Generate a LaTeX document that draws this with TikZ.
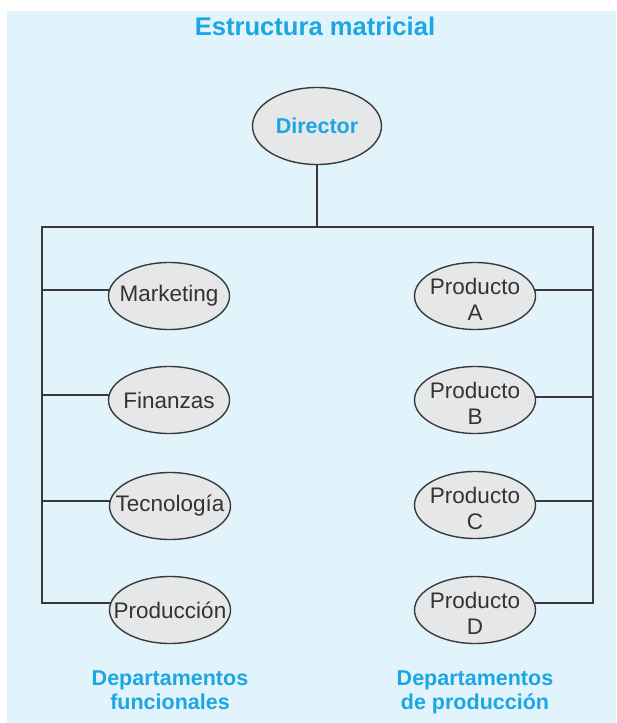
\documentclass[tikz,border=0pt]{standalone}
\usepackage{fontspec}
\setmainfont{Liberation Sans}
\usetikzlibrary{shapes.geometric}
\definecolor{bgblue}{HTML}{E1F3FB}
\definecolor{cyantext}{HTML}{1CA6E4}
\definecolor{elfill}{HTML}{E6E7E9}
\definecolor{elline}{HTML}{3A3A3A}
\definecolor{labtext}{HTML}{333333}
\tikzset{
  eli/.style={ellipse, draw=elline, line width=1.4pt, fill=elfill,
    minimum width=121pt, minimum height=67pt, inner sep=0pt},
  lab/.style={font=\fontsize{22.5}{26}\selectfont, text=labtext, align=center, inner sep=0pt},
  lab2/.style={lab, yshift=-3pt},
  conn/.style={draw=elline, line width=1.7pt},
  cyanlab/.style={font=\fontsize{21.5}{24}\selectfont\bfseries, text=cyantext, align=center, inner sep=0pt},
}
\begin{document}
\begin{tikzpicture}[x=1pt,y=-1pt]
\useasboundingbox (0,0) rectangle (616,723);
\fill[bgblue] (7,11) rectangle (616,723);
\node[font=\fontsize{25.6}{28}\selectfont\bfseries, text=cyantext, anchor=base, inner sep=0pt] (title) at (315,35) {Estructura matricial};
\node[eli, minimum width=129pt, minimum height=77pt,
  label={[cyanlab]center:Director}] (dir) at (317,126) {};
% functional departments
\node[eli, label={[lab]center:Marketing}] (mk) at (169,296) {};
\node[eli, label={[lab]center:Finanzas}] (fi) at (169,400) {};
\node[eli, label={[lab]center:Tecnología}] (te) at (170,506) {};
\node[eli, label={[lab]center:Producción}] (pr) at (170,610) {};
% product departments
\node[eli, label={[lab2]center:Producto\\A}] (pa) at (475,296) {};
\node[eli, label={[lab2]center:Producto\\B}] (pb) at (475,400) {};
\node[eli, label={[lab2]center:Producto\\C}] (pc) at (475,505) {};
\node[eli, label={[lab2]center:Producto\\D}] (pd) at (475,610) {};
\coordinate (tl) at (42,227);
\coordinate (tr) at (593,227);
% frame
\draw[conn, line join=miter] (pr.173) -- (pr.173 -| tl) |- (tr) -- (pd.7 -| tr) -- (pd.7);
\draw[conn] (dir.south) -- (dir.south |- tl);
\draw[conn] (mk.174) -- (mk.174 -| tl);
\draw[conn] (fi.175) -- (fi.175 -| tl);
\draw[conn] (te.175) -- (te.175 -| tl);
\draw[conn] (pa.6) -- (pa.6 -| tr);
\draw[conn] (pb.3) -- (pb.3 -| tr);
\draw[conn] (pc.4) -- (pc.4 -| tr);
% bottom labels
\node[cyanlab, anchor=north] (lf) at (170,670) {Departamentos\\funcionales};
\node[cyanlab, anchor=north] (lp) at (475,670) {Departamentos\\de producción};
\end{tikzpicture}
\end{document}
